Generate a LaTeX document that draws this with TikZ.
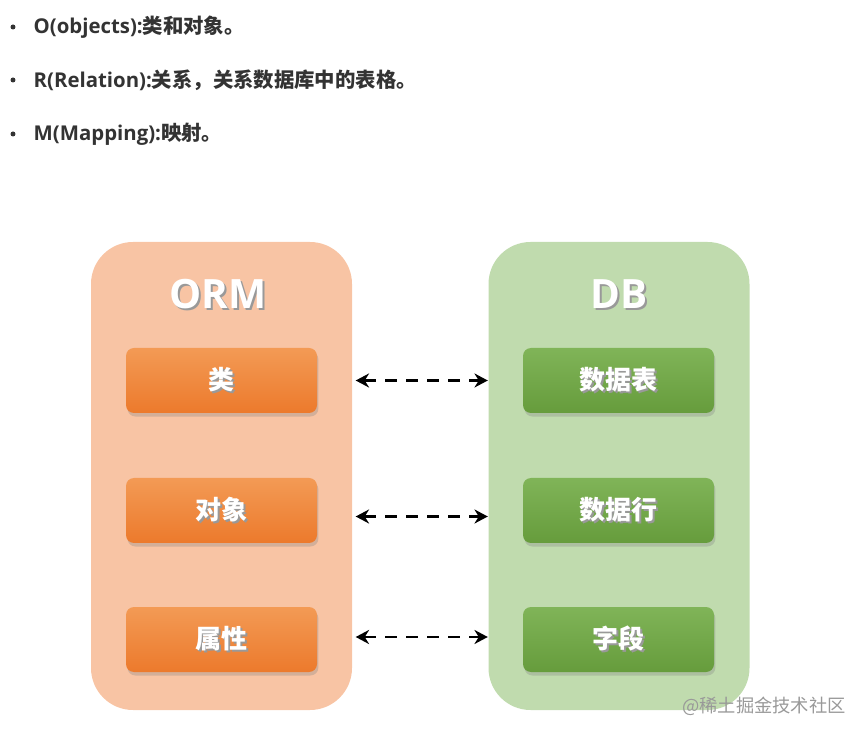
\documentclass[tikz,border=0pt]{standalone}
\usepackage{fontspec}
\setmainfont{Open Sans}
\newfontfamily\cjk{Noto Sans CJK SC}
\usetikzlibrary{arrows.meta,shadows,positioning,calc}
\definecolor{fondoOrm}{HTML}{F8C4A4}
\definecolor{fondoDb}{HTML}{C0DBAE}
\definecolor{naranjaArriba}{HTML}{F39A55}
\definecolor{naranjaAbajo}{HTML}{EC7A2C}
\definecolor{verdeArriba}{HTML}{80B458}
\definecolor{verdeAbajo}{HTML}{669C3C}
\definecolor{textoGris}{HTML}{333333}
\newcommand{\conSombra}[1]{\makebox[0pt][l]{\hspace{0.5pt}\raisebox{-0.6pt}{\textcolor{black!40}{#1}}}\textcolor{white}{#1}}

\begin{document}
\begin{tikzpicture}[x=1cm,y=1cm,
    panel/.style={rounded corners=0.42cm, minimum width=2.61cm, minimum height=4.68cm, inner sep=0pt},
    caja/.style={rounded corners=0.08cm, minimum width=1.91cm, minimum height=0.65cm, inner sep=0pt,
        drop shadow={shadow xshift=0.4pt, shadow yshift=-1pt, opacity=0.3}, font=\cjk\bfseries\fontsize{7.4pt}{8pt}\selectfont},
    cajaOrm/.style={caja, top color=naranjaArriba, bottom color=naranjaAbajo},
    cajaDb/.style={caja, top color=verdeArriba, bottom color=verdeAbajo},
    titulo/.style={font=\bfseries\fontsize{11.5pt}{13pt}\selectfont},
    flecha/.style={{Stealth[length=3.8pt,width=4pt]}-{Stealth[length=3.8pt,width=4pt]}, line width=0.75pt, dash pattern=on 3.4pt off 2.6pt},
    item/.style={anchor=west, inner sep=0pt, text=textoGris, font=\bfseries\fontsize{5.8pt}{7pt}\selectfont}]
    \useasboundingbox (0,0) rectangle (8.66,7.36);
    \foreach \y/\lat/\chn [count=\i] in {7.09/O(objects):/类和对象。, 6.56/R(Relation):/关系，关系数据库中的表格。, 6.02/M(Mapping):/映射。}{
        \fill[textoGris] (0.13,\y) circle (0.025);
        \node[item] (item\i) at (0.33,\y) {\lat{\cjk\chn}};
    }
    \node[panel, fill=fondoOrm] (ormPanel) at (2.215,2.60) {};
    \node[panel, fill=fondoDb] (dbPanel) at (6.19,2.60) {};
    \node[titulo] (ormTitulo) at (2.18,4.41) {\conSombra{ORM}};
    \node[titulo] (dbTitulo) at (6.19,4.41) {\conSombra{DB}};
    \foreach \y/\izq/\der/\d [count=\i] in {3.555/类/数据表/0, 2.255/对象/数据行/-0.06, 0.965/属性/字段/0.025}{
        \node[cajaOrm] (orm\i) at (2.215,\y) {\conSombra{\izq}};
        \node[cajaDb] (db\i) at (6.185,\y) {\conSombra{\der}};
        \draw[flecha, shorten <=0.03cm] ($(orm\i -| ormPanel.east)+(0,\d)$) -- ($(db\i -| dbPanel.west)+(0,\d)$);
    }
    \node[text=black!40, font=\cjk\fontsize{5.2pt}{6pt}\selectfont] (marca) at (7.64,0.30) {@稀土掘金技术社区};
\end{tikzpicture}
\end{document}
